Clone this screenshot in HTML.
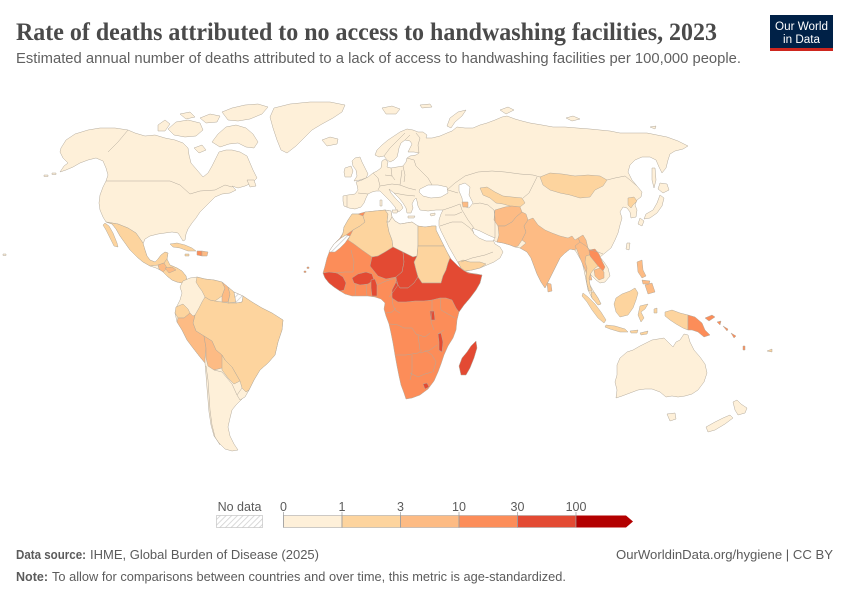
<!DOCTYPE html>
<html><head><meta charset="utf-8"><style>
html,body{margin:0;padding:0;background:#fff;}
svg{display:block;}
</style></head><body>
<svg width="850" height="600" viewBox="0 0 850 600" xmlns="http://www.w3.org/2000/svg">
<defs>
<pattern id="h" patternUnits="userSpaceOnUse" width="4" height="4" patternTransform="rotate(45)"><rect width="4" height="4" fill="#fff"/><line x1="0" y1="0" x2="0" y2="4" stroke="#d0d0d0" stroke-width="1.6"/></pattern>
</defs>
<rect width="850" height="600" fill="#fff"/>

<!-- Header -->
<text x="16" y="40" font-family="Liberation Serif, serif" font-size="25" font-weight="bold" fill="#4a4a4a" textLength="701" lengthAdjust="spacingAndGlyphs">Rate of deaths attributed to no access to handwashing facilities, 2023</text>
<text x="16" y="63" font-family="Liberation Sans, sans-serif" font-size="14.5" fill="#606060" textLength="725" lengthAdjust="spacingAndGlyphs">Estimated annual number of deaths attributed to a lack of access to handwashing facilities per 100,000 people.</text>
<rect x="770" y="15" width="63" height="34" fill="#002147"/>
<rect x="770" y="48" width="63" height="3" fill="#ce261e"/>
<text x="801.5" y="30" text-anchor="middle" font-family="Liberation Sans, sans-serif" font-size="11.5" fill="#fff" textLength="53" lengthAdjust="spacingAndGlyphs">Our World</text>
<text x="801.5" y="43" text-anchor="middle" font-family="Liberation Sans, sans-serif" font-size="11.5" fill="#fff" textLength="37" lengthAdjust="spacingAndGlyphs">in Data</text>

<!-- Map -->
<g stroke="#b3aa9c" stroke-width="0.5" stroke-linejoin="round">
<!-- North America base -->
<polygon fill="#fef0d9" points="61,148 66,140 75,134 88,130 100,128 115,128 128,130 135,133 145,136 155,135 165,138 175,140 183,143 188,148 189,155 191,163 197,170 203,177 208,173 212,166 216,158 219,152 226,150 232,150 240,152 247,156 250,163 253,170 257,178 252,183 245,186 238,188 232,186 236,190 230,193 222,194 215,197 210,202 205,207 200,212 196,218 192,223 188,229 186,234 185,240 183,241 180,236 178,233 172,232 165,233 158,234 150,236 145,239 143,244 145,250 147,256 150,260 155,262 158,259 161,255 165,252 168,253 167,259 165,263 170,265 177,268 182,271 186,276 187,281 182,283 177,282 172,280 167,276 162,271 156,268 150,266 143,262 137,257 130,250 125,243 120,236 116,229 112,224 106,222 103,217 100,210 99,203 100,195 103,187 106,181 108,175 106,168 103,161 96,158 88,160 80,163 73,167 66,170 60,172 64,166 68,163 63,158 60,152"/>
<polyline fill="none" points="106,181 170,181 180,185 190,194 200,191 215,190 225,185 232,187"/>
<polyline fill="none" points="128,130 118,142 108,152"/>
<polyline fill="none" points="106,222 118,224 128,228 136,233 143,243"/>
<polygon fill="#fef0d9" points="212,142 218,134 226,127 236,125 246,128 253,134 258,142 254,148 246,147 238,143 229,144 220,147"/>
<polygon fill="#fef0d9" points="222,112 232,108 245,105 258,104 268,107 262,114 250,119 238,121 228,120"/>
<polygon fill="#fef0d9" points="200,118 210,114 220,116 217,122 206,123"/>
<polygon fill="#fef0d9" points="168,129 176,122 188,120 200,123 203,130 196,136 185,137 174,135"/>
<polygon fill="#fef0d9" points="158,125 165,120 170,124 165,131 158,131"/>
<polygon fill="#fef0d9" points="194,148 202,145 206,150 199,153"/>
<polygon fill="#fef0d9" points="180,114 190,112 195,117 186,119"/>
<polygon fill="#fef0d9" points="247,180 254,180 256,186 250,187"/>
<polygon fill="#fef0d9" points="274,108 290,104 310,102 330,102 345,105 342,112 333,118 322,124 312,130 304,138 296,146 287,153 281,150 277,140 273,128 270,117"/>
<polygon fill="#fef0d9" points="322,140 330,137 338,139 337,144 327,146"/>
<rect x="52" y="173" width="4" height="1.5" fill="#fef0d9"/>
<rect x="44" y="175" width="4" height="1.5" fill="#fef0d9"/>
<rect x="3" y="254" width="3" height="1.5" fill="#fef0d9"/>
<!-- Mexico & central America -->
<polygon fill="#fdd49e" points="106,222 118,224 128,228 136,233 143,243 145,250 147,256 150,260 155,262 158,259 161,255 165,252 168,253 167,259 164,263 158,265 150,266 143,262 137,257 130,250 125,243 120,236 116,229 112,224"/>
<polygon fill="#fdd49e" points="105,223 109,226 113,233 117,243 118,247 114,246 110,238 106,230 103,225"/>
<polygon fill="#fdd49e" points="164,263 167,259 170,265 177,268 182,271 186,276 187,281 182,283 177,282 172,280 167,276 162,271 158,266"/>
<polygon fill="#fdbb84" points="158,265 164,263 167,268 163,272 159,269"/>
<polygon fill="#fdbb84" points="165,268 172,267 176,270 169,273"/>
<polygon fill="#fdd49e" points="170,244 177,243 185,245 192,248 196,251 188,251 180,248 173,247"/>
<polygon fill="#fc8d59" points="197,251 202,251 202,256 197,255"/>
<polygon fill="#fdbb84" points="202,251 208,252 207,256 202,256"/>
<polygon fill="#fdd49e" points="185,254 189,254 189,256 185,256"/>
<!-- South America -->
<polygon fill="#fef0d9" points="180,287 183,281 190,278 197,277 205,279 214,280 222,282 228,287 234,292 243,296 252,302 262,308 272,313 283,320 282,330 278,342 275,355 268,363 260,370 254,380 249,390 245,396 240,401 236,405 232,410 230,418 228,427 230,436 234,444 238,450 232,451 225,449 219,443 214,436 211,425 209,412 208,400 207,388 206,375 205,363 200,357 193,348 187,340 182,330 177,322 175,313 177,306 180,300 182,293"/>
<polygon fill="#fdd49e" points="205,297 210,300 215,301 222,302 228,303 236,303 242,302 243,296 252,302 262,308 272,313 283,320 282,330 278,342 275,355 268,363 260,370 254,380 249,390 246,392 242,388 240,381 236,374 232,367 225,360 222,355 216,350 212,341 204,336 196,331 193,323 195,315 199,308 202,302"/>
<polygon fill="#fdd49e" points="197,277 205,279 214,280 222,282 225,288 222,296 215,301 210,300 205,297 202,291 199,287 196,282"/>
<polygon fill="#fdbb84" points="222,282 228,287 230,294 228,302 222,302 222,296 225,288"/>
<polygon fill="#fdd49e" points="228,287 234,292 236,302 228,303 230,294"/>
<polygon fill="url(#h)" points="234,292 243,296 242,302 236,303"/>
<polygon fill="#fdd49e" points="176,307 183,304 188,309 190,313 184,318 178,318 175,313"/>
<polygon fill="#fdbb84" points="178,318 184,318 190,313 193,316 195,315 193,323 196,331 204,336 206,348 205,358 205,363 200,357 193,348 187,340 182,330 177,322"/>
<polygon fill="#fdbb84" points="204,336 212,341 216,350 222,355 225,360 222,368 214,370 208,366 206,358 206,348"/>
<polygon fill="#fdd49e" points="222,355 225,360 232,367 236,374 240,381 234,384 228,378 222,370 222,368"/>
<polygon fill="#fef0d9" points="242,388 246,392 249,390 245,397 240,400 237,395"/>
<polyline fill="none" points="206,366 208,380 209,395 210,410 212,425 215,437 220,445"/>
<polyline fill="none" points="214,370 222,372 232,384 237,395"/>
<!-- Africa -->
<polygon fill="#fc8d59" points="352,214 358,214 365,212 375,211 385,210 391,211 392,217 395,221 400,224 406,223 412,222 418,226 425,227 432,226 436,226 436,230 439,236 443,244 447,252 451,259 456,265 462,270 470,273 477,274 482,275 480,283 476,290 470,298 464,305 459,312 457,320 456,330 453,338 448,346 444,355 441,364 438,372 434,381 428,389 420,395 412,398 406,399 404,393 401,385 399,376 397,366 395,355 393,343 391,333 389,324 386,316 384,309 385,303 381,299 375,297 368,296 360,296 352,296 345,294 340,291 334,287 329,283 325,278 323,273 325,266 327,258 330,250 334,244 340,238 343,233 344,227 348,220"/>
<polygon fill="#fdd49e" points="352,214 358,214 363,216 365,222 360,226 353,230 346,235 341,238 343,233 344,227 348,220"/>
<polygon fill="url(#h)" points="341,238 346,235 350,236 345,243 340,248 335,252 329,252 330,250 334,244"/>
<polygon fill="#fdd49e" points="363,216 365,212 375,211 385,210 388,214 387,222 389,232 392,240 393,247 385,252 378,256 372,257 362,250 354,244 348,240 350,236 353,230 360,226 365,222"/>
<polygon fill="#fef0d9" points="385,210 391,211 392,217 389,222 387,222 388,214"/>
<polygon fill="#fef0d9" points="387,222 389,222 392,217 395,221 400,224 406,223 412,222 418,226 418,245 417,256 413,257 403,252 393,247 392,240 389,232"/>
<polygon fill="#fdd49e" points="418,226 425,227 432,226 436,226 436,230 439,236 443,244 444,246 418,246"/>
<polygon fill="#fdd49e" points="418,246 444,246 447,252 450,258 448,263 446,270 443,276 441,283 432,283 422,283 418,277 416,270 414,262 417,256"/>
<polygon fill="#e34a33" points="372,257 378,256 385,252 393,247 403,252 404,262 402,272 396,277 386,279 378,276 374,271 370,266"/>
<polygon fill="#e34a33" points="403,252 413,257 417,256 414,262 416,270 418,277 414,283 408,288 400,288 396,282 396,277 402,272 404,262"/>
<polygon fill="#e34a33" points="396,282 400,288 408,288 414,283 418,277 422,283 432,283 441,283 443,276 446,270 448,263 450,258 454,262 458,266 463,270 468,273 475,274 482,275 480,283 476,290 470,298 464,305 459,312 456,308 452,300 446,298 440,298 432,300 424,301 415,301 406,302 398,302 392,298 392,290"/>
<polygon fill="#e34a33" points="352,278 358,274 366,272 372,274 374,280 368,284 360,285 354,283"/>
<polygon fill="#e34a33" points="323,273 329,272 337,273 343,277 346,283 344,290 340,291 334,287 329,283 325,278"/>
<polygon fill="#e34a33" points="371,280 375,279 377,285 377,296 372,296 371,288"/>
<polygon fill="#e34a33" points="430,311 434,311 435,320 431,320"/>
<polygon fill="#e34a33" points="438,334 441,333 443,342 442,352 439,350 439,342"/>
<polygon fill="#e34a33" points="423,384 427,383 429,387 425,389"/>
<polygon fill="#e34a33" points="471,346 476,341 477,348 474,358 470,368 466,375 461,375 459,366 462,358 467,352"/>
<g fill="none">
<polyline points="351,250 354,262 353,272"/>
<polyline points="336,273 345,272 353,272"/>
<polyline points="356,284 355,296"/>
<polyline points="366,284 367,296"/>
<polyline points="377,285 386,281 396,278 398,285 393,292 389,297"/>
<polyline points="392,297 393,305 395,310 400,313"/>
<polyline points="386,313 392,312 396,308"/>
<polyline points="432,300 432,312 431,322 434,330"/>
<polyline points="390,324 398,325 404,328 412,328 416,334 425,337 430,333"/>
<polyline points="396,355 406,355 418,353 422,350"/>
<polyline points="418,335 420,350"/>
<polyline points="412,355 412,372 410,380"/>
<polyline points="410,373 418,377 425,374 432,372"/>
<polyline points="425,350 432,355 436,362 433,372"/>
<polyline points="440,298 441,310 455,318"/>
<polyline points="420,353 430,350 437,345"/>
<polyline points="444,330 438,334"/>
</g>
<rect x="307" y="267" width="2" height="1.5" fill="#fc8d59"/>
<rect x="304" y="271" width="2" height="1.5" fill="#fc8d59"/>
<!-- Eurasia -->
<polygon fill="#fef0d9" points="343,196 348,195 355,194 358,190 357,185 356,182 362,180 368,177 373,173 377,171 381,168 382,161 385,159 388,162 387,167 391,168 397,167 403,166 406,162 407,158 410,156 416,155 419,153 414,152 408,152 410,148 412,144 410,141 405,140 401,143 399,148 398,153 397,157 394,160 390,162 387,160 384,156 379,157 375,155 377,150 382,145 388,140 394,136 400,132 407,129 413,130 418,132 423,132 427,135 426,138 432,138 440,136 447,133 452,131 457,127 465,128 473,128 480,125 487,123 495,120 502,117 507,116 515,119 522,121 530,123 542,125 553,127 565,127 577,128 590,129 600,130 610,131 620,133 633,133 647,133 657,135 667,137 678,141 688,146 683,149 675,151 670,154 668,160 666,168 662,173 659,167 656,160 650,157 642,157 635,160 630,165 628,172 632,180 637,186 642,192 641,197 637,200 635,205 637,210 636,217 631,218 630,212 627,208 623,207 620,212 622,218 620,225 618,233 615,240 611,248 605,253 600,257 604,262 608,268 610,276 605,282 600,283 596,280 592,276 588,272 588,278 590,285 594,292 598,298 601,304 598,305 592,298 588,290 586,280 584,270 582,262 578,255 575,250 570,249 565,253 560,258 556,266 552,274 548,282 545,288 541,282 537,274 534,266 531,258 527,252 520,248 515,247 510,245 503,243 497,242 493,240 495,244 500,247 503,252 500,258 494,262 487,265 480,268 472,270 465,271 461,268 457,261 453,254 449,247 445,239 441,231 439,226 439,220 441,214 443,210 436,210 428,211 420,210 418,206 417,201 416,198 414,200 412,204 413,208 411,213 407,213 406,208 403,203 399,198 394,193 389,189 391,193 396,199 401,204 403,208 400,211 397,212 395,207 390,201 385,196 380,191 376,191 372,192 368,194 366,198 364,203 361,207 355,209 349,208 344,206 343,201"/>
<polygon fill="#fef0d9" points="355,158 360,157 362,162 365,168 368,174 366,178 360,180 354,181 357,176 356,170 353,166 352,161"/>
<polygon fill="#fef0d9" points="345,168 351,166 353,171 351,177 345,177 344,172"/>
<polygon fill="#fef0d9" points="382,108 392,106 400,109 396,114 386,114"/>
<polygon fill="#fef0d9" points="447,126 450,118 458,112 466,110 462,116 455,122 451,128"/>
<polygon fill="#fef0d9" points="420,105 430,104 432,107 422,108"/>
<polygon fill="#fef0d9" points="500,110 508,107 514,110 506,114"/>
<polygon fill="#fef0d9" points="566,118 573,116 580,119 572,121"/>
<polygon fill="#fef0d9" points="650,127 656,126 655,129"/>
<polygon fill="#fef0d9" points="652,168 655,168 656,180 654,188 652,180"/>
<polygon fill="#fef0d9" points="660,183 667,184 669,190 663,193 658,189"/>
<polygon fill="#fef0d9" points="660,195 664,198 662,206 657,213 650,218 644,219 646,214 653,210 657,203"/>
<polygon fill="#fef0d9" points="640,218 644,221 642,226 638,224"/>
<polygon fill="#fef0d9" points="627,243 630,243 629,250 626,249"/>
<polygon fill="#fef0d9" points="392,210 398,210 397,213 393,213"/>
<polygon fill="#fef0d9" points="380,200 382,200 382,206 380,206"/>
<polygon fill="#fef0d9" points="408,216 415,216 414,218 408,218"/>
<polygon fill="#fef0d9" points="430,214 435,213 435,215 431,216"/>
<!-- seas -->
<polygon fill="#fff" points="420,189 428,185 438,185 447,187 448,193 441,197 431,198 423,196 419,192"/>
<polygon fill="#fff" points="459,185 465,183 470,187 469,195 473,203 469,208 463,206 462,198 459,191"/>
<polygon fill="#fff" points="472,228 480,231 488,235 495,238 493,241 486,241 479,238 474,234"/>
<!-- Asia colored -->
<polygon fill="#fdd49e" points="480,188 487,187 495,192 503,196 512,197 522,198 525,203 520,207 510,206 503,204 496,203 490,198 483,195"/>
<polygon fill="#fdbb84" points="462,202 468,202 468,207 463,207"/>
<polygon fill="#fdbb84" points="495,210 505,207 512,206 520,207 522,212 516,217 512,222 505,226 498,226 494,220"/>
<polygon fill="#fdbb84" points="498,226 505,226 512,222 516,217 522,212 526,214 528,220 524,226 526,232 522,240 518,246 515,247 510,245 503,243 497,242 499,235"/>
<polygon fill="#fdbb84" points="520,248 526,243 522,240 526,232 524,226 528,220 533,218 538,225 545,230 552,233 560,236 568,238 572,236 575,240 578,238 580,242 577,247 575,250 570,249 565,253 560,258 556,266 552,274 548,282 545,288 541,282 537,274 534,266 531,258 527,252"/>
<polygon fill="#fdbb84" points="578,238 583,235 586,240 588,248 590,253 588,258 587,265 590,272 592,280 588,280 586,272 583,265 580,258 577,250 575,246 580,242"/>
<polygon fill="#fdd49e" points="586,256 592,254 596,260 598,266 594,269 591,273 589,278 590,285 592,291 589,291 587,284 586,276 587,268 585,262"/>
<polygon fill="#fc8d59" points="589,250 595,249 599,254 602,261 605,267 603,271 598,266 594,261 590,256"/>
<polygon fill="#fdbb84" points="594,270 600,268 604,272 604,278 599,280 595,276"/>
<polygon fill="#fdd49e" points="591,292 594,292 598,298 601,304 598,305 592,298"/>
<polygon fill="#fdd49e" points="540,177 550,173 562,174 575,176 588,175 600,176 607,180 603,186 595,190 590,197 580,198 570,195 560,193 550,190 543,185"/>
<polygon fill="#fdd49e" points="628,198 634,197 637,201 633,205 631,208 628,205"/>
<polygon fill="#fdd49e" points="458,262 463,260 470,262 480,262 486,264 480,268 472,270 465,271 461,268"/>
<polygon fill="#fdbb84" points="547,283 551,284 552,291 548,292"/>
<g fill="none">
<polyline points="358,193 368,194"/>
<polyline points="347,196 347,207"/>
<polyline points="373,173 378,178 380,186 378,190"/>
<polyline points="391,168 392,176 395,180"/>
<polyline points="403,166 405,175 404,182"/>
<polyline points="407,158 414,160 416,166"/>
<polyline points="416,166 422,172 428,178 432,185"/>
<polyline points="380,186 392,184 400,185 408,188 416,190"/>
<polyline points="394,193 405,195 415,196"/>
<polyline points="384,156 390,148 398,140 405,133"/>
<polyline points="405,140 410,135"/>
<polyline points="419,153 418,145 420,138 416,133"/>
<polyline points="447,190 455,183 465,176 478,172 492,171 505,172 520,174 533,175 540,177"/>
<polyline points="448,190 458,193"/>
<polyline points="443,210 452,207 460,204 462,210 468,220 474,228"/>
<polyline points="495,238 495,230 495,218 494,210 488,205 480,203 473,204"/>
<polyline points="440,226 452,222 462,222 470,228 474,233"/>
<polyline points="461,262 472,258 485,255 493,252"/>
<polyline points="445,215 455,215 462,212"/>
<polyline points="607,180 615,178 625,176 630,180 637,186"/>
<polyline points="537,177 533,185 529,193 523,198"/>
<polyline points="580,242 586,246 590,250 598,252 603,254"/>
<polyline points="400,185 402,170"/>
<polyline points="385,175 392,176"/>
</g>
<!-- SE Asia / Oceania -->
<polygon fill="#fdd49e" points="583,293 588,297 595,304 601,312 606,320 604,323 598,318 592,310 587,302 582,296"/>
<polygon fill="#fdd49e" points="606,325 615,326 625,329 628,332 620,332 610,329 605,327"/>
<polygon fill="#fdd49e" points="630,331 638,330 637,333 631,333"/>
<polygon fill="#fdd49e" points="640,333 648,331 647,334 641,335"/>
<polygon fill="#fdd49e" points="616,298 622,294 630,291 635,288 638,293 636,300 633,308 628,315 620,317 616,312 614,304"/>
<polygon fill="#fdd49e" points="640,306 648,304 645,309 641,312 644,318 641,322 638,315"/>
<polygon fill="#fdd49e" points="654,309 657,308 657,313 654,313"/>
<polygon fill="#fdbb84" points="637,262 642,260 643,270 646,276 642,278 638,272"/>
<polygon fill="#fdbb84" points="645,285 652,283 655,292 648,294"/>
<polygon fill="#fdbb84" points="642,280 650,281 649,284 643,284"/>
<polygon fill="#fdd49e" points="665,312 672,310 680,313 688,315 688,330 683,328 676,324 670,320 665,316"/>
<polygon fill="#fc8d59" points="688,315 695,317 702,323 705,330 710,335 704,337 698,332 692,330 688,330"/>
<polygon fill="#fc8d59" points="705,318 712,315 715,317 709,321"/>
<polygon fill="#fc8d59" points="717,322 721,321 720,325"/>
<polygon fill="#fc8d59" points="723,326 728,329 727,331"/>
<polygon fill="#fc8d59" points="731,333 736,336 734,338"/>
<polygon fill="#fc8d59" points="743,346 745,346 745,350 743,350"/>
<polygon fill="#fdd49e" points="767,351 772,349 772,352"/>
<polygon fill="#fef0d9" points="617,365 620,358 627,352 633,350 640,346 648,342 652,340 658,339 664,338 668,342 673,347 676,342 680,340 684,334 688,335 690,342 694,350 700,357 705,364 707,373 704,382 698,390 692,394 685,396 678,397 672,396 666,397 660,392 652,389 645,389 638,390 630,393 622,396 616,398 617,390 615,382 617,375"/>
<polygon fill="#fef0d9" points="667,414 675,413 676,419 670,421"/>
<polygon fill="#fef0d9" points="733,402 737,400 741,404 747,408 745,413 738,415 735,410"/>
<polygon fill="#fef0d9" points="706,427 715,422 723,418 730,415 733,418 725,424 715,430 708,432"/>
</g>

<!-- Legend -->
<text x="239.5" y="511" text-anchor="middle" font-family="Liberation Sans, sans-serif" font-size="12.5" fill="#5b5b5b">No data</text>
<rect x="216.5" y="515.5" width="46" height="12" fill="url(#h)" stroke="#bbb" stroke-width="0.6"/>
<g font-family="Liberation Sans, sans-serif" font-size="12.5" fill="#5b5b5b" text-anchor="middle">
<text x="283.5" y="511">0</text>
<text x="342" y="511">1</text>
<text x="400.5" y="511">3</text>
<text x="459" y="511">10</text>
<text x="517.5" y="511">30</text>
<text x="576" y="511">100</text>
</g>
<g stroke="#aaa" stroke-width="0.6">
<rect x="283.5" y="515.5" width="58.5" height="12" fill="#fef0d9"/>
<rect x="342" y="515.5" width="58.5" height="12" fill="#fdd49e"/>
<rect x="400.5" y="515.5" width="58.5" height="12" fill="#fdbb84"/>
<rect x="459" y="515.5" width="58.5" height="12" fill="#fc8d59"/>
<rect x="517.5" y="515.5" width="58.5" height="12" fill="#e34a33"/>
</g>
<polygon points="576,515.5 626,515.5 633,521.5 626,527.5 576,527.5" fill="#b30000"/>
<g stroke="#999" stroke-width="0.7">
<line x1="283.5" y1="512" x2="283.5" y2="527.5"/>
<line x1="342" y1="512" x2="342" y2="527.5"/>
<line x1="400.5" y1="512" x2="400.5" y2="527.5"/>
<line x1="459" y1="512" x2="459" y2="527.5"/>
<line x1="517.5" y1="512" x2="517.5" y2="527.5"/>
<line x1="576" y1="512" x2="576" y2="527.5"/>
</g>

<!-- Footer -->
<g font-family="Liberation Sans, sans-serif" font-size="13" fill="#5b5b5b">
<text x="16" y="559" font-weight="bold" textLength="70" lengthAdjust="spacingAndGlyphs">Data source:</text>
<text x="90" y="559" textLength="229" lengthAdjust="spacingAndGlyphs">IHME, Global Burden of Disease (2025)</text>
<text x="616" y="559" textLength="217" lengthAdjust="spacingAndGlyphs">OurWorldinData.org/hygiene | CC BY</text>
<text x="16" y="581" font-weight="bold" textLength="32" lengthAdjust="spacingAndGlyphs">Note:</text>
<text x="52" y="581" textLength="514" lengthAdjust="spacingAndGlyphs">To allow for comparisons between countries and over time, this metric is age-standardized.</text>
</g>
</svg>
</body></html>
